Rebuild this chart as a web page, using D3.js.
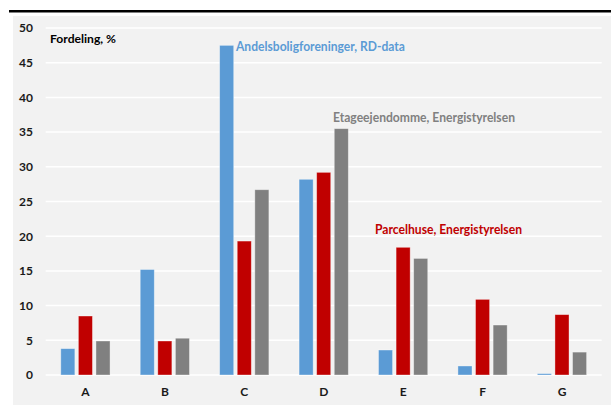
<!DOCTYPE html>
<html>
<head>
<meta charset="utf-8">
<script src="https://cdn.jsdelivr.net/npm/d3@7"></script>
<style>
  html, body { margin: 0; padding: 0; background: #ffffff; }
  svg { display: block; font-family: Lato, "Open Sans", "Liberation Sans", sans-serif; }
</style>
</head>
<body>
<svg id="chart" width="611" height="412"></svg>
<script>
// Energy label distribution (A–G), share of buildings in %
const categories = ["A", "B", "C", "D", "E", "F", "G"];
const seriesNames = [
  "Andelsboligforeninger, RD-data",
  "Parcelhuse, Energistyrelsen",
  "Etageejendomme, Energistyrelsen"
];
const andelsbolig = [3.8, 15.2, 47.5, 28.2, 3.6, 1.3, 0.2];
const parcelhuse  = [8.5, 4.9, 19.3, 29.2, 18.4, 10.9, 8.7];
const etage       = [4.9, 5.3, 26.7, 35.5, 16.8, 7.2, 3.3];
const seriesValues = [andelsbolig, parcelhuse, etage];
const colors = ["#5B9BD5", "#C00000", "#808080"];
const yTicks = [0, 5, 10, 15, 20, 25, 30, 35, 40, 45, 50];

const svg = d3.select("#chart");
const font = "Lato, 'Open Sans', sans-serif";

// top rule and panel background
svg.append("rect").attr("x", 9).attr("y", 10).attr("width", 602).attr("height", 2.5).attr("fill", "#000");
svg.append("rect").attr("x", 13).attr("y", 16).attr("width", 598).attr("height", 389).attr("fill", "#F2F2F2");

const x = d3.scaleBand().domain(categories).range([45.7, 601.7]).paddingInner(0.38).paddingOuter(0.19);
const xs = d3.scaleBand().domain(d3.range(seriesNames.length)).range([0, x.bandwidth()]).paddingInner(0.2).paddingOuter(0);
const y = d3.scaleLinear().domain([0, 50]).range([375, 28]);

// gridlines
svg.append("g").selectAll("line").data(yTicks).join("line")
  .attr("x1", 45.7).attr("x2", 601.7)
  .attr("y1", d => y(d)).attr("y2", d => y(d))
  .attr("stroke", "#FFFFFF").attr("stroke-width", 1.5);

// y axis labels
const yAxis = d3.axisLeft(y).tickValues(yTicks).tickSize(0).tickPadding(0).tickFormat(d3.format("d"));
const yg = svg.append("g").attr("transform", "translate(33,0)").call(yAxis);
yg.select(".domain").remove();
yg.selectAll("text").attr("font-size", 12).attr("font-weight", "bold").attr("fill", "#1a1a1a")
  .attr("font-family", font);

// x axis labels
const xAxis = d3.axisBottom(x).tickSize(0).tickPadding(0);
const xg = svg.append("g").attr("transform", "translate(0,387)").call(xAxis);
xg.select(".domain").remove();
xg.selectAll("text").attr("font-size", 12).attr("font-weight", "bold").attr("fill", "#1a1a1a")
  .attr("font-family", font);

// bars
const groups = svg.append("g").selectAll("g").data(categories).join("g")
  .attr("transform", d => `translate(${x(d)},0)`);
groups.selectAll("rect")
  .data((c, i) => seriesValues.map((vals, s) => ({ s, v: vals[i] })))
  .join("rect")
  .attr("x", d => xs(d.s))
  .attr("width", xs.bandwidth())
  .attr("y", d => y(d.v))
  .attr("height", d => y(0) - y(d.v))
  .attr("fill", d => colors[d.s])
  .attr("stroke", "rgba(255,255,255,0.45)")
  .attr("stroke-width", 0.8);

// axis title
svg.append("text").attr("x", 50).attr("y", 43).attr("font-size", 12).attr("font-weight", "bold")
  .attr("font-family", font)
  .attr("fill", "#000").attr("textLength", 66).attr("lengthAdjust", "spacingAndGlyphs")
  .text("Fordeling, %");

// series labels
const labels = [
  { s: 0, x: 236, y: 51, w: 169 },
  { s: 2, x: 333, y: 122, w: 182 },
  { s: 1, x: 375, y: 234, w: 147 }
];
svg.append("g").selectAll("text").data(labels).join("text")
  .attr("x", d => d.x).attr("y", d => d.y)
  .attr("font-size", 13).attr("font-weight", "bold")
  .attr("font-family", font)
  .attr("fill", d => colors[d.s])
  .attr("textLength", d => d.w).attr("lengthAdjust", "spacingAndGlyphs")
  .text(d => seriesNames[d.s]);
</script>
</body>
</html>
